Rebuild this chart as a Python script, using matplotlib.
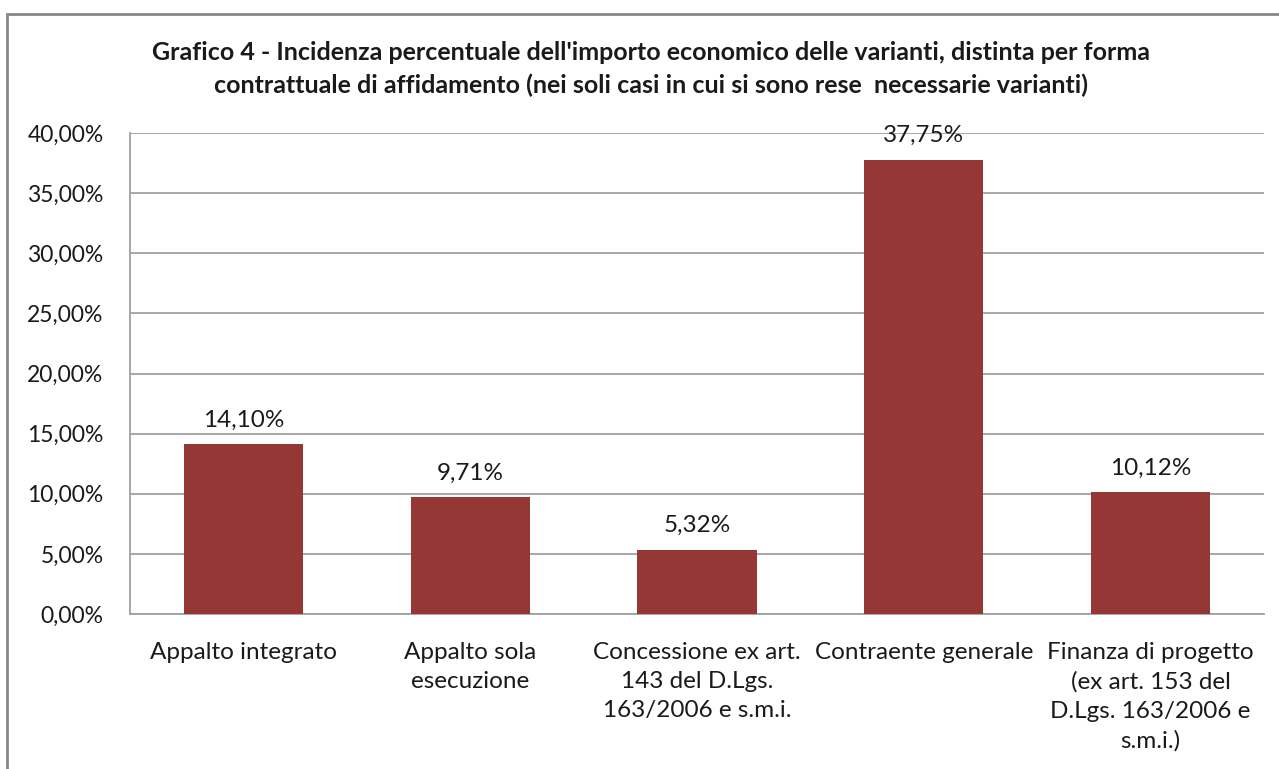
import matplotlib
matplotlib.use('Agg')
import matplotlib.pyplot as plt
from matplotlib.patches import Rectangle
from matplotlib.ticker import FuncFormatter

plt.rcParams['font.family'] = ['Lato', 'DejaVu Sans']

categories = ['Appalto integrato',
              'Appalto sola\nesecuzione',
              'Concessione ex art.\n143 del D.Lgs.\n163/2006 e s.m.i.',
              'Contraente generale',
              'Finanza di progetto\n(ex art. 153 del\nD.Lgs. 163/2006 e\ns.m.i.)']
values = [14.10, 9.71, 5.32, 37.75, 10.12]
yticks = [0, 5, 10, 15, 20, 25, 30, 35, 40]

title = ("Grafico 4 - Incidenza percentuale dell'importo economico delle varianti, distinta per forma\n"
         "contrattuale di affidamento (nei soli casi in cui si sono rese  necessarie varianti)")

W, H = 1279, 769
fig = plt.figure(figsize=(W / 100, H / 100), dpi=100)

# chart border (Excel style)
fig.patches.append(Rectangle((7 / W, -0.1), 1.2, 1 - 14 / H + 0.1, transform=fig.transFigure,
                             fill=False, edgecolor='#878787', linewidth=2))

ax = fig.add_axes([130 / W, 1 - 614 / H, (1264 - 130) / W, (614 - 133) / H])
bars = ax.bar(range(len(values)), values, width=0.525, color='#953735', zorder=3)

ax.set_ylim(0, 40)
ax.set_xlim(-0.5, len(values) - 0.5)
ax.set_yticks(yticks)
ax.yaxis.set_major_formatter(FuncFormatter(lambda v, p: f'{v:.2f}%'.replace('.', ',')))
ax.grid(axis='y', color='#a0a0a0', linewidth=1.3, zorder=0)
ax.set_xticks(range(len(values)))
ax.set_xticklabels(categories, fontsize=17.5, color='#1a1a1a', linespacing=1.47, va='top')
ax.tick_params(axis='both', length=0, colors='#1a1a1a')
ax.tick_params(axis='y', pad=19, labelsize=16.5)
ax.tick_params(axis='x', pad=20)

for s in ['top', 'right']:
    ax.spines[s].set_visible(False)
for s in ['left', 'bottom']:
    ax.spines[s].set_color('#a0a0a0')
    ax.spines[s].set_linewidth(1.3)

ax.bar_label(bars, labels=[f'{v:.2f}%'.replace('.', ',') for v in values],
             padding=10, fontsize=17.5, color='#1a1a1a')

fig.text(651 / W, 1 - 69 / H, title, ha='center', va='center', fontsize=18,
         fontweight='bold', color='#1a1a1a', linespacing=1.45)

fig.savefig('out.png', dpi=100)
